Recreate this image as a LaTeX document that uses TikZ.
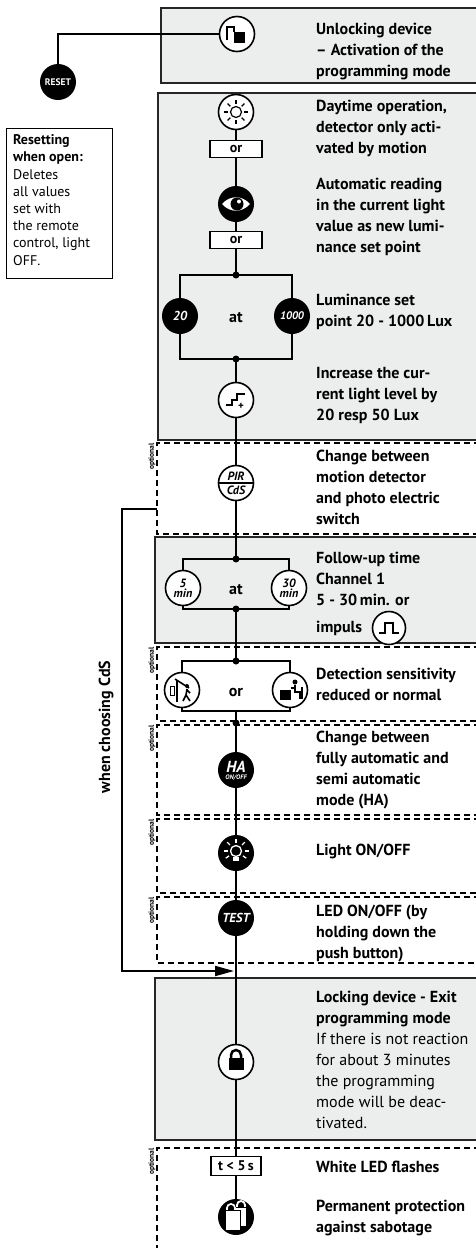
\documentclass[tikz,border=0pt]{standalone}
\usepackage{fontspec}
\setmainfont{PT Sans}
\usetikzlibrary{arrows.meta,calc}
\definecolor{panelgray}{RGB}{236,237,237}
\newcommand{\fs}[2]{\fontsize{#1}{#2}\selectfont}

\begin{document}
\begin{tikzpicture}[x=1pt,y=-1pt,
  wire/.style={line width=2pt},
  panel/.style={draw=black!85,line width=1.2pt,fill=panelgray},
  optframe/.style={line width=1.1pt,dash pattern=on 6pt off 4pt},
  btn/.style={circle,draw,line width=1.6pt,fill=white,minimum size=35pt,inner sep=0pt},
  bbtn/.style={circle,fill=black,minimum size=36pt,inner sep=0pt,text=white},
  orbox/.style={draw,line width=1.6pt,fill=white,minimum width=52pt,minimum height=17pt,inner sep=0pt,font=\bfseries\fs{14}{14}},
  dot/.style={circle,fill=black,minimum size=7pt,inner sep=0pt},
  txt/.style={anchor=north west,align=left,inner sep=0pt,font=\bfseries\fs{16}{21}},
  opttxt/.style={rotate=90,anchor=east,inner sep=0pt,font=\bfseries\fs{7.5}{8}}]
\useasboundingbox (0,0) rectangle (476,1248);

% panels
\draw[panel] (161,8) rectangle (480,83);
\draw[panel] (158,93) rectangle (480,440);
\draw[panel] (155,537) rectangle (480,643);
\draw[panel] (155,978) rectangle (480,1140);

% optional frames
\draw[optframe] (480,443) -- (157,443) -- (157,534) -- (480,534);
\draw[optframe] (480,647) -- (157,647) -- (157,721) -- (480,721);
\draw[optframe] (480,725) -- (157,725) -- (157,815) -- (480,815);
\draw[optframe] (480,819) -- (157,819) -- (157,893) -- (480,893);
\draw[optframe] (480,897) -- (157,897) -- (157,963) -- (480,963);
\draw[optframe] (480,1148) -- (157,1148) -- (157,1250);
\foreach \y in {443,647,725,819,897,1148}
  \node[opttxt] (opt\y) at (152,\y) {optional};

% reset
\node[bbtn,font=\bfseries\fs{9.5}{10}] (reset) at (58,82) {RESET};
\draw[line width=1pt] (6,128) rectangle (112,278);
\node[anchor=north west,align=left,inner sep=0pt,font=\fs{14}{17.2}] (resettxt) at (13,134.5)
  {\textbf{Resetting}\\\textbf{when open:}\\Deletes\\all values\\set with\\the remote\\control, light\\OFF.};

% buttons
\node[btn] (unlock) at (237,34) {};
\fill[shift={(unlock.center)}] (-3,-2) rectangle (8,9);
\draw[shift={(unlock.center)},line width=1.6pt] (-10,6) -- (-10,-7) -- (-3,-7) -- (-3,-2);

\node[btn] (sun) at (236,112) {};
\draw[shift={(sun.center)},line width=1.2pt] (0,0) circle[radius=5.5];
\foreach \a in {0,45,...,315}
  \draw[shift={(sun.center)},line width=1.2pt] (\a:8) -- (\a:12);
\node[orbox] (or1) at (236,149) {or};

\node[bbtn] (eye) at (236,204) {};
\fill[white,shift={(eye.center)}] (-14,0) .. controls (-6,-9) and (6,-9) .. (14,0) .. controls (6,9) and (-6,9) .. (-14,0);
\fill[shift={(eye.center)}] (1,0) circle[radius=6.5];
\fill[white,shift={(eye.center)}] (3,-2.5) circle[radius=2];
\node[orbox] (or2) at (236,240) {or};

\node[dot] (j1) at (236,275) {};
\node[bbtn,font=\bfseries\itshape\fs{13}{13}] (lux20) at (180,316) {20};
\node[bbtn,font=\bfseries\itshape\fs{11}{11}] (lux1000) at (292,316) {1000};
\node[font=\bfseries\fs{16}{16}] (at1) at (236,318) {at};
\node[dot] (j2) at (236,359) {};

\node[btn] (stepup) at (236,400) {};
\begin{scope}[shift={(stepup.center)}]
\draw[line width=1.8pt] (-10,5) -- (-4,5) -- (-4,0) -- (1,0) -- (1,-6) -- (9,-6);
\node[font=\bfseries\fs{11}{11},inner sep=0pt] (plus) at (5,6) {+};
\end{scope}

\node[btn] (pir) at (236,483) {};
\draw[line width=1.4pt] (pir.west) -- (pir.east);
\begin{scope}[shift={(pir.center)}]
\node[font=\bfseries\itshape\fs{12}{12},inner sep=0pt] (pirtop) at (0,-6.5) {PIR};
\node[font=\bfseries\itshape\fs{12}{12},inner sep=0pt] (pirbot) at (0,7) {CdS};
\end{scope}

\node[dot] (j3) at (236,559) {};
\node[btn,font=\bfseries\itshape\fs{12}{10},align=center] (min5) at (183,588) {5\\min};
\node[btn,font=\bfseries\itshape\fs{12}{10},align=center] (min30) at (289,588) {30\\min};
\node[font=\bfseries\fs{16}{16}] (at2) at (236,590) {at};
\node[dot] (j4) at (236,609) {};
\node[btn,minimum size=33pt] (impuls) at (389,628) {};
\draw[shift={(impuls.center)},line width=1.8pt] (-10,5) -- (-4,5) -- (-4,-5) -- (4,-5) -- (4,5) -- (10,5);

\node[dot] (j5) at (236,661) {};
\node[btn] (sensred) at (182,690) {};
\begin{scope}[shift={(sensred.center)}]
\draw[line width=1pt] (-12,-4) rectangle (-8,5);
\draw[line width=2pt] (-5,-9) -- (-5,12);
\draw[line width=1.6pt] (-7,-11) -- (7,-2);
\fill (5,-4) circle[radius=2];
\draw[line width=1.6pt] (5,-1) -- (4,5) -- (1,11) (4,5) -- (8,11) (5,0) -- (8,3);
\end{scope}
\node[font=\bfseries\fs{16}{16}] (or3) at (236,692) {or};
\node[btn] (sensnorm) at (290,690) {};
\begin{scope}[shift={(sensnorm.center)}]
\fill (-10,0) rectangle (1,10);
\fill (5,-8) circle[radius=2.5];
\draw[line width=2pt] (5,-5) -- (5,2) -- (10,2) -- (10,9);
\draw[line width=1.2pt] (12,-3) -- (12,9) (1,-2) -- (5,-2);
\end{scope}
\coordinate (sb) at (236,711);
\node[dot] (j6) at (236,723) {};

\node[bbtn] (ha) at (236,770) {};
\begin{scope}[shift={(ha.center)}]
\node[font=\bfseries\itshape\fs{16}{16},inner sep=0pt,text=white] (hatop) at (0,-3) {HA};
\node[font=\bfseries\itshape\fs{6.5}{6.5},inner sep=0pt,text=white] (habot) at (0,8) {ON/OFF};
\end{scope}

\node[bbtn] (lighttgl) at (236,853) {};
\begin{scope}[shift={(lighttgl.center)}]
\draw[white,line width=1.3pt] (0,-2) circle[radius=5.5];
\fill[white] (-3,4) rectangle (3,8);
\foreach \a in {0,180,-90,-45,-135,35,145}
  \draw[white,line width=1.3pt] ($(0,-2)+(\a:8.5)$) -- ($(0,-2)+(\a:12.5)$);
\end{scope}

\node[bbtn,font=\bfseries\itshape\fs{13}{13}] (test) at (236,918) {TEST};
\coordinate (cds) at (157,509);
\coordinate (lockin) at (234,971);

\node[btn] (lock) at (236,1062) {};
\begin{scope}[shift={(lock.center)}]
\draw[line width=2.5pt] (-5,-3) -- (-5,-7) arc[start angle=180,end angle=360,radius=5] -- (5,-3);
\fill (-7.5,-4) rectangle (7.5,8);
\end{scope}

\node[draw,line width=1.8pt,fill=white,font=\bfseries\fs{14}{14},minimum width=50pt,minimum height=19pt,inner sep=1pt] (tfive) at (236,1166) {t < 5\,s};

\node[bbtn] (sabo) at (236,1217) {};
\begin{scope}[shift={(sabo.center)}]
\draw[white,line width=1.8pt] (1,-10) -- (1,-12) arc[start angle=180,end angle=360,radius=4] -- (9,-10);
\filldraw[fill=white,draw=black,line width=0.8pt] (-1,-10) rectangle (10,9);
\draw[white,line width=1.8pt] (-9,-7) -- (-9,-9) arc[start angle=180,end angle=360,radius=4] -- (-1,-7);
\draw[black,line width=0.6pt] (-7.5,-7) -- (-7.5,-9) arc[start angle=180,end angle=360,radius=2.5] -- (-2.5,-7);
\filldraw[fill=white,draw=black,line width=0.8pt] (-11,-7) rectangle (4,13);
\end{scope}

% wires
\draw[wire] (unlock.west) -| (reset.north);
\draw[wire] (sun) -- (or1);
\draw[wire] (or1) -- (eye);
\draw[wire] (eye) -- (or2);
\draw[wire] (or2) -- (j1.center);
\draw[wire] (lux20.north) |- (j1.center) -| (lux1000.north);
\draw[wire] (lux20.south) |- (j2.center) -| (lux1000.south);
\draw[wire] (j2.center) -- (stepup);
\draw[wire] (stepup) -- (pir);
\draw[wire] (pir) -- (j3.center);
\draw[wire] (min5.north) |- (j3.center) -| (min30.north);
\draw[wire] (min5.south) |- (j4.center) -| (min30.south);
\draw[wire] (j4.center) -- (j5.center);
\draw[wire] (sensred.north) |- (j5.center) -| (sensnorm.north);
\draw[wire] (sensred.south) |- (sb) -| (sensnorm.south);
\draw[wire] (sb) -- (j6.center) -- (ha);
\draw[wire] (ha) -- (lighttgl);
\draw[wire] (lighttgl) -- (test);
\draw[wire] (test) -- (lock);
\draw[wire] (lock) -- (tfive);
\draw[wire] (tfive) -- (sabo);
\draw[wire,-{Triangle[length=19pt,width=10pt]}] (cds) -- (122,509) -- (122,971) -- (lockin);
\node[rotate=90,font=\bfseries\fs{16}{16}] (cdsnote) at (106,727) {when choosing CdS};

% texts
\node[txt] (t1) at (316,22.5) {Unlocking device\\– Activation of the\\programming mode};
\node[txt] (t2) at (316,99.5) {Daytime operation,\\detector only acti-\\vated by motion};
\node[txt] (t3) at (316,177.5) {Automatic reading\\in the current light\\value as new lumi-\\nance set point};
\node[txt] (t4) at (316,293.5) {Luminance set\\point 20 - 1000\,Lux};
\node[txt] (t5) at (316,367.5) {Increase the cur-\\rent light level by\\20 resp 50 Lux};
\node[txt] (t6) at (316,449.5) {Change between\\motion detector\\and photo electric\\switch};
\node[txt] (t7) at (316,551.5) {Follow-up time\\Channel 1\\5 - 30\,min. or\\[6pt]impuls};
\node[txt] (t8) at (316,667.5) {Detection sensitivity\\reduced or normal};
\node[txt] (t9) at (316,730.5) {Change between\\fully automatic and\\semi automatic\\mode (HA)};
\node[txt] (t10) at (316,843.5) {Light ON/OFF};
\node[txt] (t11) at (316,904.5) {LED ON/OFF (by\\holding down the\\push button)};
\node[txt] (t12) at (316,990.5) {Locking device - Exit\\programming mode\\{\mdseries If there is not reaction}\\{\mdseries for about 3 minutes}\\{\mdseries the programming}\\{\mdseries mode will be deac-}\\{\mdseries tivated.}};
\node[txt] (t13) at (316,1160.5) {White LED flashes};
\node[txt] (t14) at (316,1199.5) {Permanent protection\\against sabotage};
\end{tikzpicture}
\end{document}
